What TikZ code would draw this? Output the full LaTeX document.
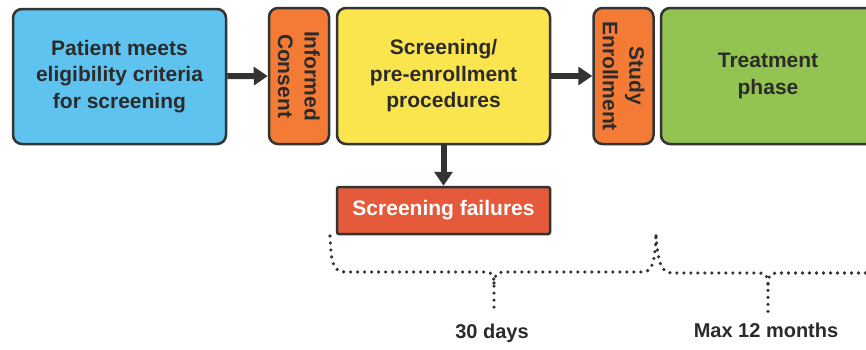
\documentclass[tikz,border=0pt]{standalone}
\usepackage{fontspec}
\setmainfont{Liberation Sans}
\usetikzlibrary{arrows.meta}
\definecolor{edgegray}{HTML}{333333}
\definecolor{textgray}{HTML}{2B2B2B}
\definecolor{skyblue}{HTML}{5EC3EE}
\definecolor{tabgold}{HTML}{F47B36}
\definecolor{lemon}{HTML}{FAE54F}
\definecolor{leaf}{HTML}{93C452}
\definecolor{alarm}{HTML}{E65A3C}
\tikzset{
  stage/.style={draw=edgegray, line width=2.5pt, rounded corners=9pt, align=center,
    inner sep=0pt, text=textgray, font=\bfseries\fontsize{21}{26.5}\selectfont},
  tab/.style={stage, fill=tabgold, rotate=-90, minimum width=136pt, minimum height=60pt},
  flow/.style={draw=edgegray, line width=6pt, -{Triangle[length=14pt,width=18pt]}},
  span/.style={draw=edgegray, line width=3.6pt, line cap=round, dash pattern=on 0pt off 7pt},
  timelabel/.style={text=textgray, font=\bfseries\fontsize{20}{24}\selectfont}
}
\begin{document}
\begin{tikzpicture}[x=1pt,y=-1pt]
\useasboundingbox (0,0) rectangle (866,349);
\node[stage, fill=skyblue, minimum width=213pt, minimum height=135pt] (patient) at (119.5,76.5) {Patient meets\\eligibility criteria\\for screening};
\node[tab] (consent) at (299,76) {Informed\\Consent};
\node[stage, fill=lemon, minimum width=213pt, minimum height=136pt] (screen) at (443.5,76) {Screening/\\pre-enrollment\\procedures};
\node[tab] (enrol) at (623.5,76) {Study\\Enrollment};
\node[stage, fill=leaf, minimum width=214pt, minimum height=136pt] (treat) at (768,76) {Treatment\\phase};
\node[stage, fill=alarm, text=white, rounded corners=2pt, minimum width=213pt, minimum height=47pt] (fail) at (443.5,210.5) {Screening failures};

\draw[flow] (patient) -- (consent);
\draw[flow] (screen) -- (enrol);
\draw[flow] (screen) -- (fail);

% time spans
\coordinate (s1) at (330,236);
\coordinate (s2) at (656,236);
\coordinate (t1) at (494,310);
\coordinate (t2) at (768,312);
\draw[span] (s1) .. controls (331,262) and (333,272) .. (345,272) -- (486,272)
  .. controls (492,272) and (494,276) .. (494,283) -- (t1);
\draw[span] (494,283) .. controls (494,276) and (497,272) .. (503,272) -- (643,272)
  .. controls (652,272) and (655,262) .. (s2);
\draw[span] (s2) .. controls (658,262) and (661,273) .. (672,273) -- (760,273)
  .. controls (766,273) and (768,277) .. (768,284) -- (t2);
\draw[span] (768,284) .. controls (768,277) and (770,273) .. (776,273) -- (872,273);

\node[timelabel] (days) at (492,333) {30 days};
\node[timelabel] (months) at (766,330) {Max 12 months};
\end{tikzpicture}
\end{document}
